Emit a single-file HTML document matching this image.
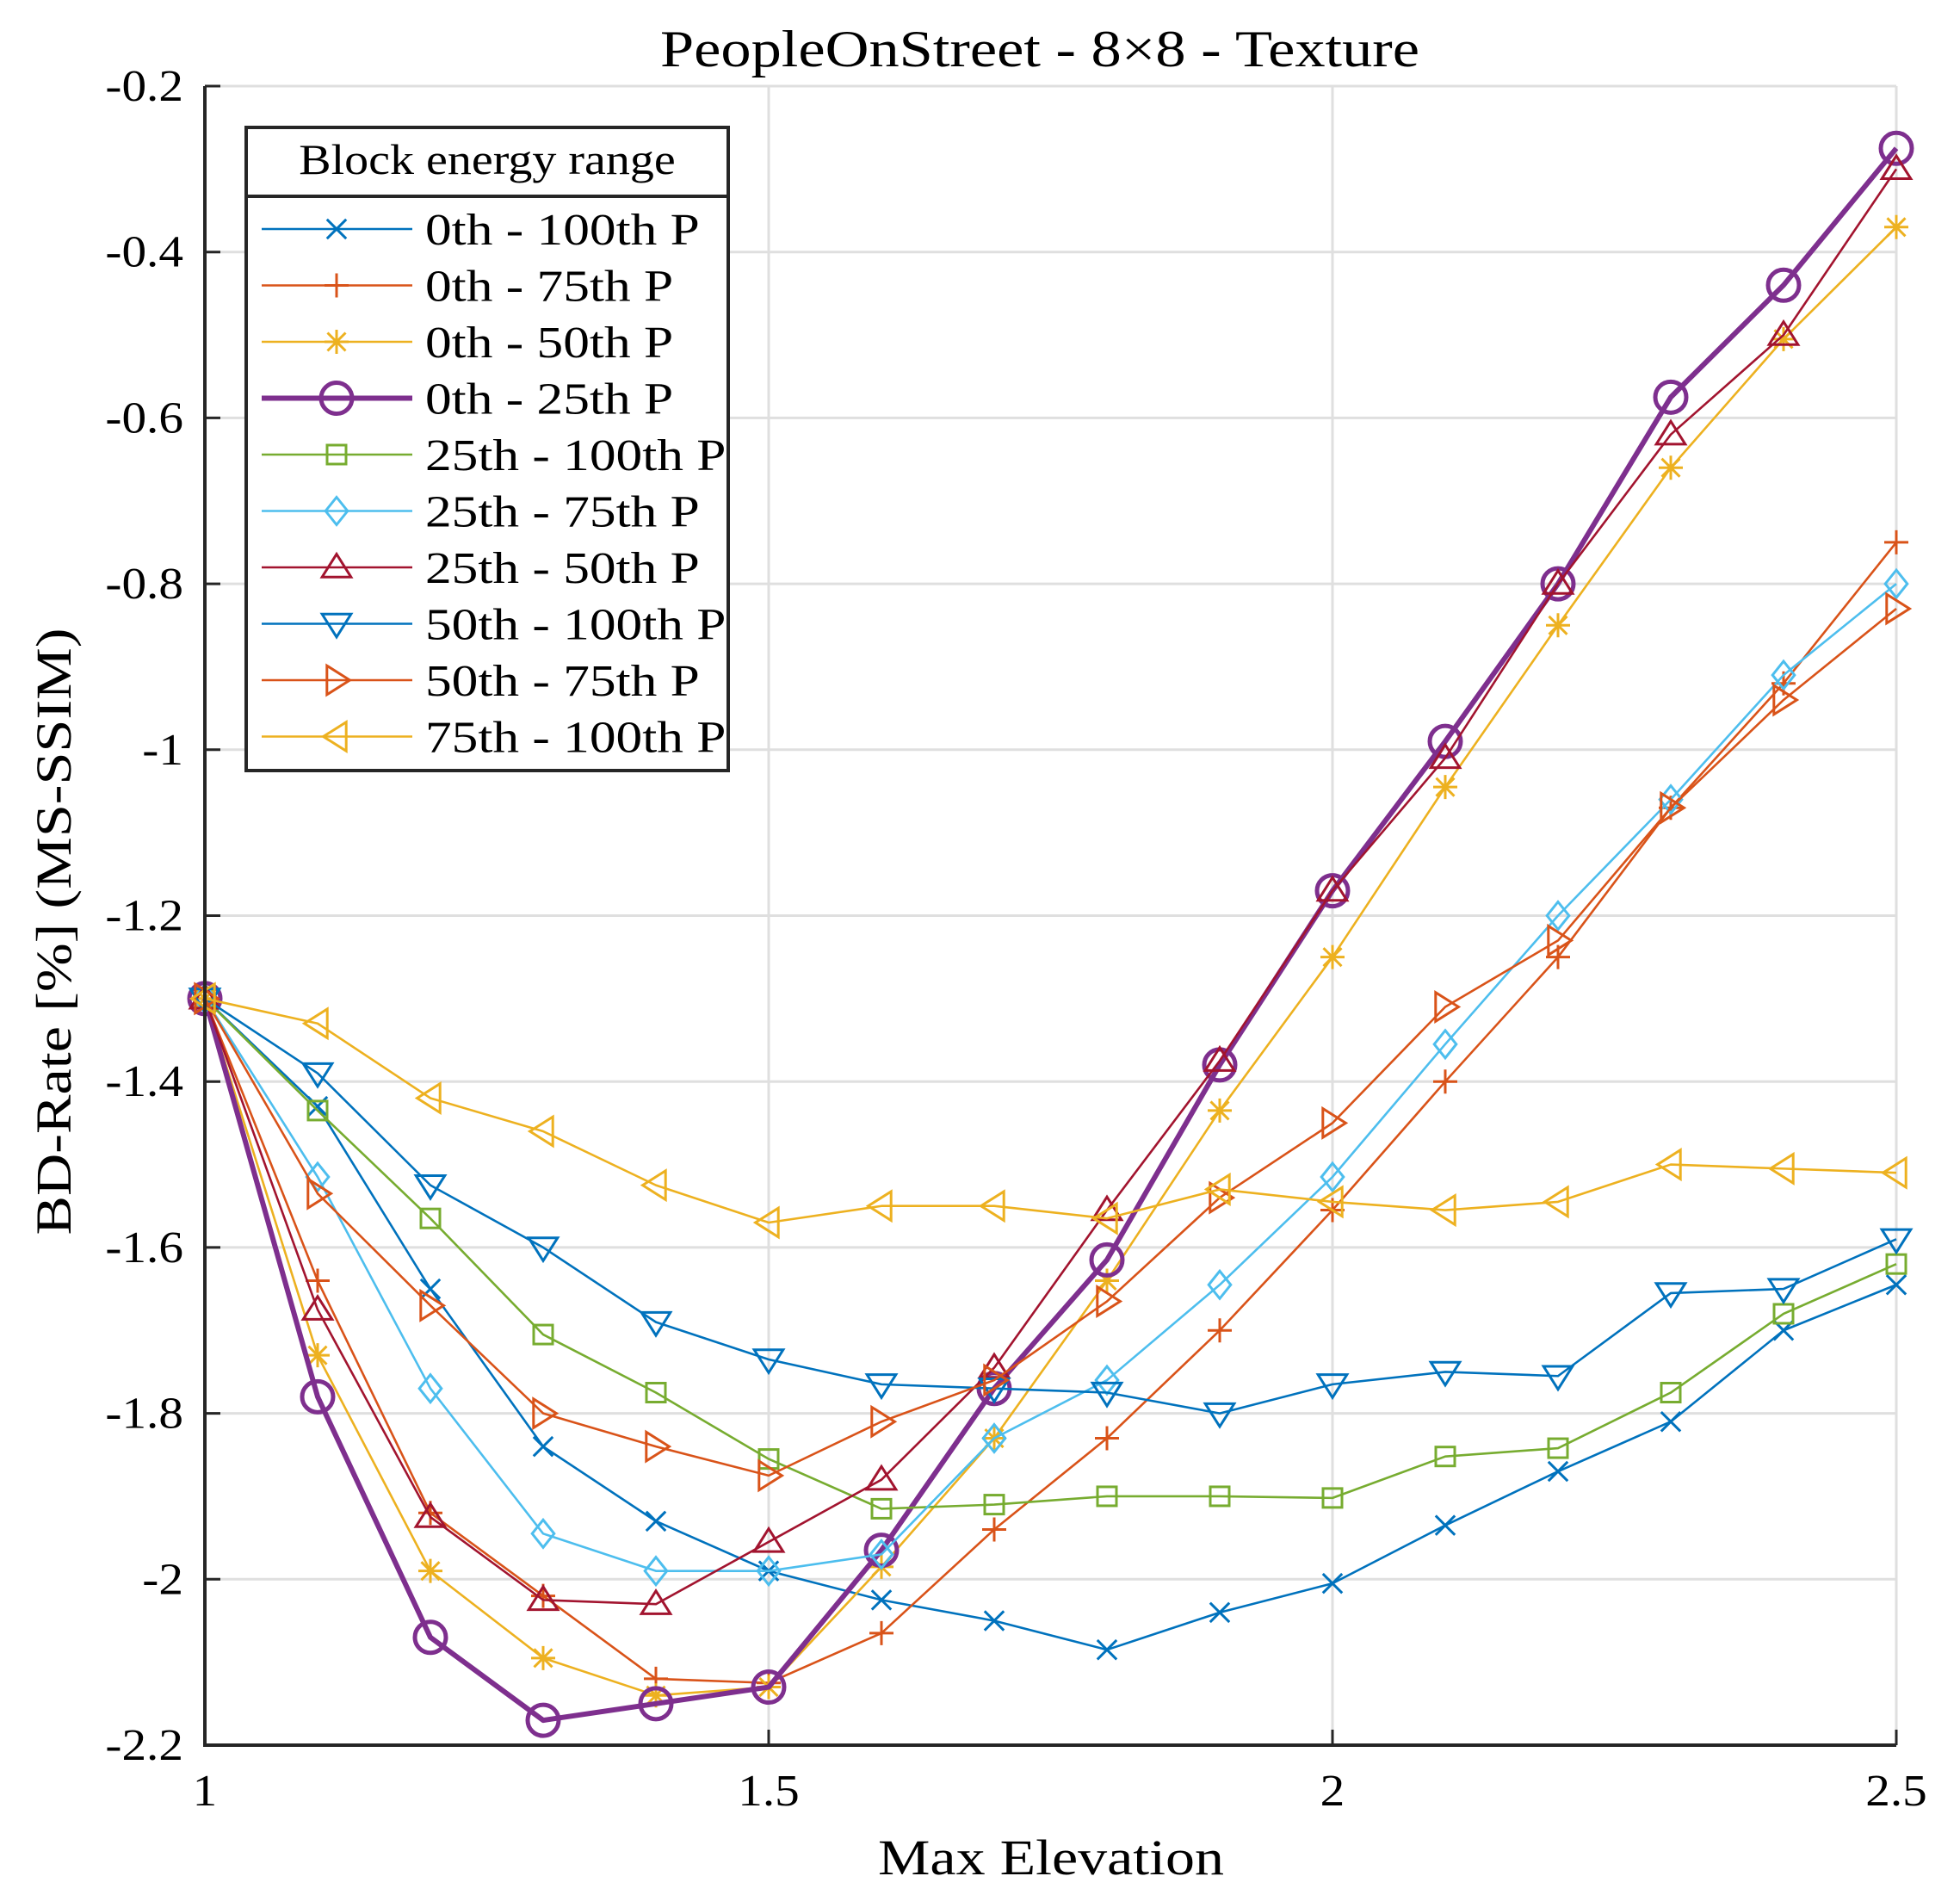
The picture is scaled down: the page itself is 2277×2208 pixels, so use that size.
<!DOCTYPE html>
<html><head><meta charset="utf-8"><style>
html,body{margin:0;padding:0;background:#fff}
svg{display:block}
text{font-family:"Liberation Serif",serif;fill:#000}
</style></head><body>
<svg id="chart" width="2277" height="2208" viewBox="0 0 2277 2208" xmlns="http://www.w3.org/2000/svg">
<rect width="2277" height="2208" fill="#fff"/>
<g id="grid"></g>
<g id="series"></g>
<g id="axes"></g>
<text x="1208" y="77" font-size="60" text-anchor="middle" textLength="882" lengthAdjust="spacingAndGlyphs">PeopleOnStreet - 8×8 - Texture</text>
<text x="1221" y="2177" font-size="58" text-anchor="middle" textLength="402" lengthAdjust="spacingAndGlyphs">Max Elevation</text>
<text transform="translate(82,1082) rotate(-90)" font-size="58" text-anchor="middle" textLength="705" lengthAdjust="spacingAndGlyphs">BD-Rate [%] (MS-SSIM)</text>
<g id="legend"></g>
</svg>
<script>
const xValues = [1,1.1,1.2,1.3,1.4,1.5,1.6,1.7,1.8,1.9,2,2.1,2.2,2.3,2.4,2.5];
const xTicks = [1,1.5,2,2.5];
const xTickLabels = ["1","1.5","2","2.5"];
const yTicks = [-0.2,-0.4,-0.6,-0.8,-1,-1.2,-1.4,-1.6,-1.8,-2,-2.2];
const yTickLabels = ["-0.2","-0.4","-0.6","-0.8","-1","-1.2","-1.4","-1.6","-1.8","-2","-2.2"];
const seriesNames = ["0th - 100th P","0th - 75th P","0th - 50th P","0th - 25th P","25th - 100th P","25th - 75th P","25th - 50th P","50th - 100th P","50th - 75th P","75th - 100th P"];
const s0_100 = [-1.3,-1.43,-1.65,-1.84,-1.93,-1.99,-2.025,-2.05,-2.085,-2.04,-2.005,-1.935,-1.87,-1.81,-1.70,-1.645];
const s0_75 = [-1.3,-1.64,-1.92,-2.02,-2.12,-2.125,-2.065,-1.94,-1.83,-1.70,-1.555,-1.40,-1.25,-1.07,-0.92,-0.75];
const s0_50 = [-1.3,-1.73,-1.99,-2.095,-2.14,-2.13,-1.985,-1.83,-1.64,-1.435,-1.25,-1.045,-0.85,-0.66,-0.505,-0.37];
const s0_25 = [-1.3,-1.78,-2.07,-2.17,-2.15,-2.13,-1.965,-1.77,-1.615,-1.38,-1.17,-0.99,-0.80,-0.575,-0.44,-0.275];
const s25_100 = [-1.3,-1.435,-1.565,-1.705,-1.775,-1.855,-1.915,-1.91,-1.90,-1.90,-1.902,-1.852,-1.842,-1.775,-1.68,-1.62];
const s25_75 = [-1.3,-1.515,-1.77,-1.945,-1.99,-1.99,-1.97,-1.83,-1.76,-1.645,-1.515,-1.355,-1.2,-1.06,-0.91,-0.80];
const s25_50 = [-1.3,-1.675,-1.925,-2.025,-2.03,-1.955,-1.88,-1.745,-1.555,-1.375,-1.17,-1.01,-0.8,-0.62,-0.50,-0.30];
const s50_100 = [-1.3,-1.39,-1.525,-1.60,-1.69,-1.735,-1.765,-1.77,-1.775,-1.80,-1.765,-1.75,-1.755,-1.655,-1.65,-1.59];
const s50_75 = [-1.3,-1.535,-1.67,-1.80,-1.84,-1.875,-1.81,-1.76,-1.665,-1.54,-1.45,-1.31,-1.23,-1.07,-0.94,-0.83];
const s75_100 = [-1.3,-1.33,-1.42,-1.46,-1.525,-1.57,-1.55,-1.55,-1.565,-1.53,-1.545,-1.555,-1.545,-1.50,-1.505,-1.51];

const allSeries=[s0_100,s0_75,s0_50,s0_25,s25_100,s25_75,s25_50,s50_100,s50_75,s75_100];
const colors=["#0072BD","#D95319","#EDB120","#7E2F8E","#77AC30","#4DBEEE","#A2142F","#0072BD","#D95319","#EDB120"];
const markers=["x","+","*","o","s","d","^","v",">","<"];
const NS="http://www.w3.org/2000/svg";
const L=238,R=2203,T=100,B=2027;
const xs=v=>L+(v-1)/1.5*(R-L);
const ys=v=>T+(-0.2-v)/2.0*(B-T);
function el(tag,attrs,parent){const e=document.createElementNS(NS,tag);for(const k in attrs)e.setAttribute(k,attrs[k]);parent.appendChild(e);return e;}
function widen(t,f){const w=t.getComputedTextLength();t.setAttribute('textLength',(w*f).toFixed(1));t.setAttribute('lengthAdjust','spacingAndGlyphs');}
const grid=document.getElementById('grid'),axes=document.getElementById('axes'),ser=document.getElementById('series'),leg=document.getElementById('legend');
yTicks.forEach((v,i)=>{
  const g=el('line',{x1:L,x2:R,y1:ys(v),y2:ys(v),stroke:"#dfdfdf","stroke-width":3},grid);
  
  
  const t=el('line',{x1:L,x2:L+18,y1:ys(v),y2:ys(v),stroke:"#262626","stroke-width":3},axes);
  
  
  const tx=el('text',{x:213,y:ys(v)+17,"font-size":52,"text-anchor":"end"},axes);
  tx.textContent=yTickLabels[i];
  
  
  widen(tx,1.1);
});
xTicks.forEach((v,i)=>{
  const g=el('line',{x1:xs(v),x2:xs(v),y1:T,y2:B,stroke:"#dfdfdf","stroke-width":3},grid);
  
  
  const t=el('line',{x1:xs(v),x2:xs(v),y1:B,y2:B-18,stroke:"#262626","stroke-width":3},axes);
  
  
  const tx=el('text',{x:xs(v),y:2097,"font-size":52,"text-anchor":"middle"},axes);
  tx.textContent=xTickLabels[i];
  
  
  widen(tx,1.1);
});
const ax=el('path',{d:`M${L},${T} V${B} H${R}`,fill:"none",stroke:"#262626","stroke-width":4},axes);



function marker(type,x,y,c,parent,big){
  const r=14,sw=big?5:3;let e;
  const st={fill:"none",stroke:c,"stroke-width":sw};
  if(type==="x"){e=el('path',Object.assign({d:`M${x-r*0.8},${y-r*0.8}L${x+r*0.8},${y+r*0.8}M${x-r*0.8},${y+r*0.8}L${x+r*0.8},${y-r*0.8}`},st),parent);}
  else if(type==="+"){e=el('path',Object.assign({d:`M${x-r},${y}H${x+r}M${x},${y-r}V${y+r}`},st),parent);}
  else if(type==="*"){const a=r*0.75;e=el('path',Object.assign({d:`M${x-r},${y}H${x+r}M${x},${y-r}V${y+r}M${x-a},${y-a}L${x+a},${y+a}M${x-a},${y+a}L${x+a},${y-a}`},st),parent);}
  else if(type==="o"){e=el('circle',Object.assign({cx:x,cy:y,r:18},st),parent);}
  else if(type==="s"){e=el('rect',Object.assign({x:x-11,y:y-11,width:22,height:22},st),parent);}
  else if(type==="d"){const d=16;e=el('path',Object.assign({d:`M${x},${y-d}L${x+d*0.8},${y}L${x},${y+d}L${x-d*0.8},${y}Z`},st),parent);}
  else if(type==="^"){e=el('path',Object.assign({d:`M${x},${y-r*1.1}L${x+r*1.2},${y+r*0.8}L${x-r*1.2},${y+r*0.8}Z`},st),parent);}
  else if(type==="v"){e=el('path',Object.assign({d:`M${x},${y+r*1.1}L${x+r*1.2},${y-r*0.8}L${x-r*1.2},${y-r*0.8}Z`},st),parent);}
  else if(type===">"){e=el('path',Object.assign({d:`M${x+r*1.1},${y}L${x-r*0.8},${y-r*1.2}L${x-r*0.8},${y+r*1.2}Z`},st),parent);}
  else if(type==="<"){e=el('path',Object.assign({d:`M${x-r*1.1},${y}L${x+r*0.8},${y-r*1.2}L${x+r*0.8},${y+r*1.2}Z`},st),parent);}
  return e;
}
allSeries.forEach((vals,si)=>{
  const big=si===3;
  const g=el('g',{},ser);
  
  
  const d=vals.map((v,i)=>(i?'L':'M')+xs(xValues[i])+','+ys(v)).join('');
  const p=el('path',{d:d,fill:"none",stroke:colors[si],"stroke-width":big?6:2.6,"stroke-linejoin":"round"},g);
  
  
  vals.forEach((v,i)=>{
    const m=marker(markers[si],xs(xValues[i]),ys(v),colors[si],g,big);
    
    
  });
});
// legend
const lb=el('rect',{x:286,y:148,width:560,height:747,fill:"#fff",stroke:"#262626","stroke-width":4},leg);


const hl=el('line',{x1:286,x2:846,y1:228,y2:228,stroke:"#262626","stroke-width":4},leg);


const lt=el('text',{x:566,y:202,"font-size":50,"text-anchor":"middle"},leg);
lt.textContent="Block energy range";


widen(lt,1.12);
seriesNames.forEach((n,i)=>{
  const y=266+i*65.5;
  const g=el('g',{},leg);
  
  
  el('line',{x1:304,x2:479,y1:y,y2:y,stroke:colors[i],"stroke-width":i===3?6:2.6},g);
  marker(markers[i],391,y,colors[i],g,i===3);
  const t=el('text',{x:494,y:y+18,"font-size":52},g);
  t.textContent=n;
  widen(t,1.18);
});
</script>
</body></html>
